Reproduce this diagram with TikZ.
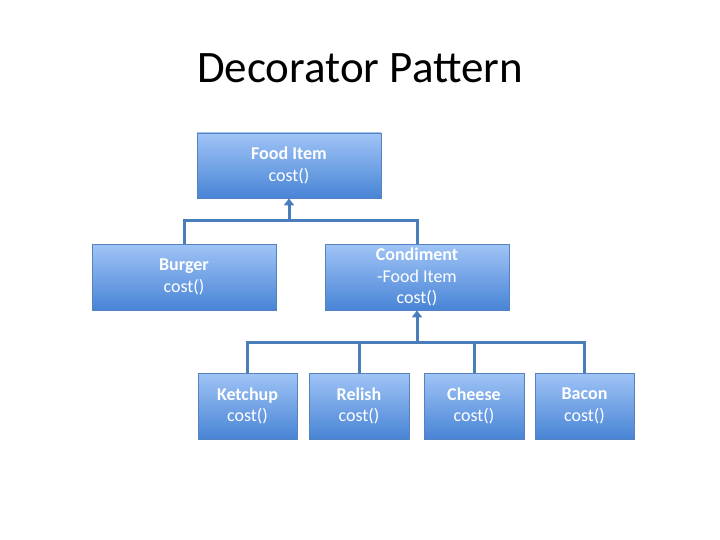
\documentclass[tikz,border=0pt]{standalone}
\usepackage{fontspec}
\setmainfont{Carlito}
\usetikzlibrary{arrows.meta}
\definecolor{linec}{RGB}{74,126,187}
\definecolor{boxtop}{RGB}{160,196,246}
\definecolor{boxbot}{RGB}{72,132,214}
\definecolor{boxdraw}{RGB}{86,130,190}
\tikzset{
  cls/.style={draw=boxdraw, line width=0.8pt, top color=boxtop, bottom color=boxbot,
    text=white, align=center, font=\fontsize{18}{21.5}\selectfont, inner sep=0pt},
  conn/.style={draw=linec, line width=3pt},
  inh/.style={draw=linec, line width=3pt, -{Triangle[width=10pt,length=7pt]}}
}
\begin{document}
\begin{tikzpicture}[x=1pt,y=-1pt]
\useasboundingbox (0,0) rectangle (720,540);
\node[font=\fontsize{45}{54}\selectfont] (title) at (360,68) {Decorator Pattern};
\node[cls, minimum width=184pt, minimum height=65pt] (food) at (289,165.5) {\textbf{Food Item}\\cost()};
\node[cls, minimum width=184pt, minimum height=66pt] (burger) at (184,277) {\textbf{Burger}\\cost()};
\node[cls, minimum width=184pt, minimum height=66pt] (cond) at (417,277) {\textbf{Condiment}\\-Food Item\\cost()};
\node[cls, minimum width=99pt, minimum height=66pt] (ketchup) at (247.5,406) {\textbf{Ketchup}\\cost()};
\node[cls, minimum width=100pt, minimum height=66pt] (relish) at (359,406) {\textbf{Relish}\\cost()};
\node[cls, minimum width=100pt, minimum height=66pt] (cheese) at (474,406) {\textbf{Cheese}\\cost()};
\node[cls, minimum width=99pt, minimum height=66pt] (bacon) at (584.5,406) {\textbf{Bacon}\\cost()};
\coordinate (j1) at (289,221);
\coordinate (j2) at (417,342);
\draw[conn] (burger.north) |- (j1) -| (cond.north);
\draw[inh] (j1) -- (food.south);
\draw[conn] (ketchup.north) |- (j2) -| (bacon.north);
\draw[conn] (relish.north) -- (relish.north |- j2);
\draw[conn] (cheese.north) -- (cheese.north |- j2);
\draw[inh] (j2) -- (cond.south);
\end{tikzpicture}
\end{document}
